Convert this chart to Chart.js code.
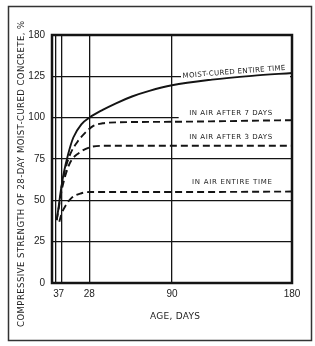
<!DOCTYPE html>
<html>
<head>
<meta charset="utf-8">
<script src="https://cdn.jsdelivr.net/npm/chart.js@4"></script>
<style>
  html, body { margin: 0; padding: 0; background: #fff; }
  .chart-container { position: relative; width: 315px; height: 346px; }
</style>
</head>
<body>
<div class="chart-container"><canvas id="chart"></canvas></div>
<script>
// age in days / strength in % of 28-day moist-cured
const moistDays = [3.5, 5, 6.3, 8.7, 12.3, 16, 22, 28, 38, 48, 60, 73, 90, 120, 150, 180];
const moistValues = [38, 46, 54, 66, 78.5, 88, 96, 100, 104.7, 108.7, 112.8, 116.2, 119.6, 123, 125.3, 127];

const air7Days = [7, 10, 14, 19, 25, 31, 38, 50, 90, 180];
const air7Values = [57.5, 69, 78.5, 85.3, 91, 95, 96.6, 97.2, 97.5, 98.5];

const air3Days = [3.5, 5, 7, 10, 14, 20, 28, 40, 90, 180];
const air3Values = [38, 45, 55, 65, 73.5, 78.5, 82, 83, 83, 83];

const airAllDays = [5.5, 7, 10, 14.7, 22, 28, 40, 90, 180];
const airAllValues = [37, 41.5, 46.5, 51.5, 54.3, 55, 55, 55, 55.3];

const xTickValues = [3, 7, 28, 90, 180];
const yTickValues = [0, 25, 50, 75, 100, 125, 150];
const yTickLabels = ['0', '25', '50', '75', '100', '125', '180'];

const toPoints = (days, values) => days.map((d, i) => ({ x: d, y: values[i] }));

const ink = '#141414';
const labelFont = '"DejaVu Sans", sans-serif';

// curve captions, placed in data coordinates
const notes = [
  { text: 'MOIST-CURED ENTIRE TIME', day: 136.5, value: 127.6, width: 103, angle: -4.5, mask: [-53, -8, 56, 14] },
  { text: 'IN AIR AFTER 7 DAYS', day: 134, value: 102.8, width: 83, angle: 0, mask: [-52, -6, 104, 12] },
  { text: 'IN AIR AFTER 3 DAYS', day: 134, value: 88.3, width: 83, angle: 0 },
  { text: 'IN AIR ENTIRE TIME', day: 135, value: 61.1, width: 80, angle: 0 }
];

function spacedText(ctx, text, cx, cy, width, angle) {
  ctx.save();
  ctx.translate(cx, cy);
  ctx.rotate(angle * Math.PI / 180);
  ctx.textBaseline = 'middle';
  ctx.textAlign = 'left';
  ctx.letterSpacing = '0px';
  const w0 = ctx.measureText(text).width;
  const gap = Math.max(0, (width - w0) / Math.max(1, text.length - 1));
  ctx.letterSpacing = gap.toFixed(2) + 'px';
  ctx.fillText(text, -width / 2, 0);
  ctx.restore();
}

const figureText = {
  id: 'figureText',
  beforeDatasetsDraw(chart) {
    const { ctx, scales: { x, y } } = chart;
    ctx.save();
    ctx.fillStyle = '#fff';
    notes.forEach(n => {
      if (!n.mask) return;
      const cx = x.getPixelForValue(n.day);
      const cy = y.getPixelForValue(n.value);
      ctx.fillRect(cx + n.mask[0], cy + n.mask[1], n.mask[2] - n.mask[0], n.mask[3]);
    });
    ctx.restore();
  },
  afterDraw(chart) {
    const { ctx, chartArea: a, scales: { x, y } } = chart;
    ctx.save();
    ctx.fillStyle = '#222';

    ctx.font = '7px ' + labelFont;
    notes.forEach(n => {
      spacedText(ctx, n.text, x.getPixelForValue(n.day), y.getPixelForValue(n.value), n.width, n.angle);
    });

    ctx.font = '9px ' + labelFont;
    spacedText(ctx, 'AGE, DAYS', 175, 317, 50, 0);

    ctx.font = '8.5px ' + labelFont;
    spacedText(ctx, 'COMPRESSIVE STRENGTH OF 28-DAY MOIST-CURED CONCRETE, %', 22, 174, 306, -90);

    // plot frame
    ctx.strokeStyle = ink;
    ctx.lineWidth = 2.5;
    ctx.strokeRect(a.left, a.top, a.right - a.left, a.bottom - a.top);

    // figure border
    ctx.strokeStyle = '#333';
    ctx.lineWidth = 1.5;
    ctx.strokeRect(8.5, 6.5, 303, 334);
    ctx.restore();
  }
};

const curve = (data, dashed) => ({
  data,
  borderColor: ink,
  borderWidth: 1.9,
  borderDash: dashed ? [7, 4] : [],
  pointRadius: 0,
  fill: false,
  cubicInterpolationMode: 'monotone'
});

new Chart(document.getElementById('chart').getContext('2d'), {
  type: 'line',
  data: {
    datasets: [
      curve(toPoints(moistDays, moistValues), false),
      curve(toPoints(air7Days, air7Values), true),
      curve(toPoints(air3Days, air3Values), true),
      curve(toPoints(airAllDays, airAllValues), true)
    ]
  },
  options: {
    responsive: true,
    maintainAspectRatio: false,
    animation: false,
    layout: { padding: { left: 0, top: 35, right: 23, bottom: 0 } },
    plugins: {
      legend: { display: false },
      tooltip: { enabled: false }
    },
    scales: {
      x: {
        type: 'linear',
        min: 0,
        max: 180,
        afterBuildTicks: s => { s.ticks = xTickValues.map(v => ({ value: v })); },
        afterFit: s => { s.height = 63; },
        ticks: {
          autoSkip: false,
          maxRotation: 0,
          padding: 5,
          color: '#222',
          font: { family: 'Liberation Sans', size: 10 },
          callback: v => String(v)
        },
        grid: { color: ink, lineWidth: 1.3, drawTicks: false },
        border: { display: false }
      },
      y: {
        min: 0,
        max: 150,
        afterBuildTicks: s => { s.ticks = yTickValues.map(v => ({ value: v })); },
        afterFit: s => { s.width = 52; },
        ticks: {
          padding: 7,
          color: '#222',
          font: { family: 'Liberation Sans', size: 10 },
          callback: (v, i) => yTickLabels[i]
        },
        grid: { color: ink, lineWidth: 1.3, drawTicks: false },
        border: { display: false }
      }
    }
  },
  plugins: [figureText]
});
</script>
</body>
</html>
